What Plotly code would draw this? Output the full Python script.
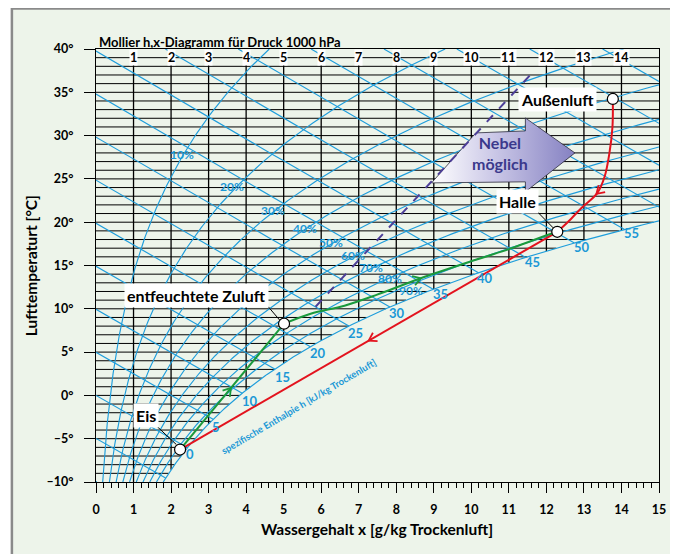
import numpy as np
import plotly.graph_objects as go

# ---------------- data ----------------
P_HPA = 1000.0
T_LINES = list(range(-9, 40))              # isotherms every 1 °C
X_LINES = list(range(1, 15))               # lines of constant water content
RH_LEVELS = [0.1, 0.2, 0.3, 0.4, 0.5, 0.6, 0.7, 0.8, 0.9, 1.0]
H_LEVELS = list(range(-10, 85, 5))         # enthalpy kJ/kg
X_TICKS = list(range(0, 16))
Y_TICKS = list(range(-10, 45, 5))
Y_TICKTEXT = ["–10°", "–5°", "0°", "5°", "10°", "15°", "20°", "25°", "30°", "35°", "40°"]
TOP_NUMBERS = list(range(1, 15))

RH_LABELS = ["10%", "20%", "30%", "40%", "50%", "60%", "70%", "80%", "90%"]
RH_LABEL_X = [2.29, 3.61, 4.72, 5.56, 6.25, 6.85, 7.34, 7.84, 8.38]
RH_LABEL_T = [27.77, 24.08, 21.31, 19.24, 17.62, 16.12, 14.80, 13.45, 12.15]

H_LABELS = ["0", "5", "10", "15", "20", "25", "30", "35", "40", "45", "50", "55"]
H_LABEL_X = [2.50, 3.19, 4.09, 4.98, 5.91, 6.91, 8.01, 9.17, 10.36, 11.63, 12.94, 14.26]
H_LABEL_T = [-6.71, -3.60, -0.60, 2.17, 4.94, 7.24, 9.55, 11.74, 13.59, 15.43, 17.16, 18.78]

STATE_NAMES = ["Außenluft", "Halle", "entfeuchtete Zuluft", "Eis"]
STATE_X = [13.77, 12.29, 5.01, 2.24]
STATE_T = [34.23, 18.89, 8.28, -6.25]
STATE_LABEL_X = [12.30, 11.23, 2.69, 1.32]
STATE_LABEL_T = [34.12, 22.35, 11.51, -2.33]

RED_CURVE_X = [13.77, 13.76, 13.68, 13.55, 13.36, 12.94, 12.58, 12.29]
RED_CURVE_T = [34.23, 31.0, 28.0, 25.24, 23.39, 21.66, 20.05, 18.89]
GREEN_CURVE_X = [5.01, 5.72, 6.62, 7.49, 8.62, 10.12, 11.18, 11.97, 12.29]
GREEN_CURVE_T = [8.28, 9.43, 10.36, 11.63, 13.47, 15.66, 17.16, 18.43, 18.89]

DASH_X = [5.85, 11.57]
DASH_T = [10.24, 37.0]

FOG_ARROW_X = [8.94, 10.12, 11.44, 11.44, 12.76, 11.44, 11.44, 8.94]
FOG_ARROW_T = [24.54, 30.31, 30.54, 32.04, 28.0, 23.51, 24.66, 24.54]

# ---------------- physics helpers ----------------
def psat(T):
    T = np.asarray(T, dtype=float)
    return 6.112 * np.exp(17.62 * T / (243.12 + T))

def x_of(T, phi=1.0):
    ps = phi * psat(T)
    return 622.0 * ps / (P_HPA - ps)

def dewpoint(x, phi=1.0):
    ps = x * P_HPA / (622.0 + x) / phi
    a = np.log(ps / 6.112)
    return 243.12 * a / (17.62 - a)

def T_of_h(h, x):
    return (h - 2.501 * x) / (1.006 + 0.00186 * x)

XMAX, TMIN, TMAX = 15.0, -10.0, 40.0
SX, SY = 569.0 / 15.0, 433.0 / 50.0

BLUE = "#1e9ddb"
BLUE_TXT = "#1b98d6"
FONT = "Lato"

# page body has an 8px margin -> figure placed at (8,8) of the window
def px_x(p):  # window pixel x -> paper
    return (p - 96) / 569.0

def px_y(p):  # window pixel y -> paper
    return (482 - p) / 433.0

fig = go.Figure()

# frame / background
fig.add_shape(type="rect", xref="paper", yref="paper",
              x0=px_x(11), x1=px_x(700), y0=px_y(580), y1=px_y(8.6),
              fillcolor="#edf4ea", line=dict(color="#8a8a8a", width=2.5), layer="below")

# black isotherms
hx, hy = [], []
for T in T_LINES:
    xe = min(XMAX, float(x_of(T)))
    hx += [0, xe, None]
    hy += [T, T, None]
fig.add_trace(go.Scatter(x=hx, y=hy, mode="lines", line=dict(color="black", width=1),
                         hoverinfo="skip", showlegend=False))
# black constant-x lines
vx, vy = [], []
for xv in X_LINES:
    tb = max(TMIN, float(dewpoint(xv)))
    vx += [xv, xv, None]
    vy += [38.4, tb, None]
fig.add_trace(go.Scatter(x=vx, y=vy, mode="lines", line=dict(color="black", width=1.3),
                         hoverinfo="skip", showlegend=False))

# blue enthalpy lines
bx, by = [], []
for h in H_LEVELS:
    x0 = 0.0
    if T_of_h(h, 0) > TMAX:
        x0 = (h - 1.006 * TMAX) / (2.501 + 0.00186 * TMAX)
    lo, hi = x0, 40.0
    for _ in range(80):
        mid = 0.5 * (lo + hi)
        if x_of(T_of_h(h, mid)) - mid > 0:
            lo = mid
        else:
            hi = mid
    x1 = min(lo, XMAX)
    if T_of_h(h, x1) < TMIN:
        x1 = (h - 1.006 * TMIN) / (2.501 + 0.00186 * TMIN)
    if x1 <= x0:
        continue
    xs = np.linspace(x0, x1, 40)
    bx += list(xs) + [None]
    by += list(T_of_h(h, xs)) + [None]
# blue relative-humidity lines
for phi in RH_LEVELS:
    ps_lim = XMAX * P_HPA / (622.0 + XMAX) / phi
    a = np.log(ps_lim / 6.112)
    t_end = min(TMAX, 243.12 * a / (17.62 - a))
    Ts = np.linspace(TMIN, t_end, 200)
    bx += list(x_of(Ts, phi)) + [None]
    by += list(Ts) + [None]
fig.add_trace(go.Scatter(x=bx, y=by, mode="lines", line=dict(color=BLUE, width=1.15),
                         hoverinfo="skip", showlegend=False))

# fog arrow
fig.add_trace(go.Scatter(x=FOG_ARROW_X, y=FOG_ARROW_T, mode="lines", fill="toself",
                         fillgradient=dict(type="horizontal",
                                           colorscale=[[0, "rgba(255,255,255,1)"], [0.45, "#c9c6e6"], [1, "#8581c2"]]),
                         line=dict(color="#2a2a3a", width=0.8), hoverinfo="skip", showlegend=False))

# dashed line
fig.add_trace(go.Scatter(x=DASH_X, y=DASH_T, mode="lines",
                         line=dict(color="#4d3f98", width=2, dash="dash"),
                         hoverinfo="skip", showlegend=False))


def vhead(xs, ys, frac, size=9.0, half=32.0):
    px = np.array(xs) * SX
    py = np.array(ys) * SY
    seg = np.hypot(np.diff(px), np.diff(py))
    cum = np.concatenate([[0], np.cumsum(seg)])
    L = frac * cum[-1]
    i = int(np.clip(np.searchsorted(cum, L) - 1, 0, len(seg) - 1))
    t = (L - cum[i]) / seg[i]
    tip = np.array([px[i] + t * (px[i + 1] - px[i]), py[i] + t * (py[i + 1] - py[i])])
    d = np.array([px[i + 1] - px[i], py[i + 1] - py[i]]) / seg[i]
    out_x, out_y = [], []
    for s in (1, -1):
        ang = np.radians(s * half)
        r = np.array([[np.cos(ang), -np.sin(ang)], [np.sin(ang), np.cos(ang)]])
        arm = tip - size * (r @ d)
        out_x.append(arm[0] / SX)
        out_y.append(arm[1] / SY)
    return [out_x[0], tip[0] / SX, out_x[1]], [out_y[0], tip[1] / SY, out_y[1]]


RED = "#e3131e"
GREEN = "#1a9a3c"
# red: outside air -> hall
fig.add_trace(go.Scatter(x=RED_CURVE_X, y=RED_CURVE_T, mode="lines", line=dict(color=RED, width=2, shape="spline"),
                         hoverinfo="skip", showlegend=False))
ax, ay = vhead(RED_CURVE_X, RED_CURVE_T, 0.64)
fig.add_trace(go.Scatter(x=ax, y=ay, mode="lines", line=dict(color=RED, width=1.8), hoverinfo="skip", showlegend=False))
# red: hall -> ice
rx = [STATE_X[1], STATE_X[3]]
ry = [STATE_T[1], STATE_T[3]]
fig.add_trace(go.Scatter(x=rx, y=ry, mode="lines", line=dict(color=RED, width=2), hoverinfo="skip", showlegend=False))
ax, ay = vhead(rx, ry, 0.50)
fig.add_trace(go.Scatter(x=ax, y=ay, mode="lines", line=dict(color=RED, width=1.8), hoverinfo="skip", showlegend=False))
# green: ice -> supply air
gx = [STATE_X[3], STATE_X[2]]
gy = [STATE_T[3], STATE_T[2]]
fig.add_trace(go.Scatter(x=gx, y=gy, mode="lines", line=dict(color=GREEN, width=2), hoverinfo="skip", showlegend=False))
ax, ay = vhead(gx, gy, 0.49)
fig.add_trace(go.Scatter(x=ax, y=ay, mode="lines", line=dict(color=GREEN, width=1.8), hoverinfo="skip", showlegend=False))
# green: supply air -> hall
fig.add_trace(go.Scatter(x=GREEN_CURVE_X, y=GREEN_CURVE_T, mode="lines", line=dict(color=GREEN, width=2, shape="spline"),
                         hoverinfo="skip", showlegend=False))
ax, ay = vhead(GREEN_CURVE_X, GREEN_CURVE_T, 0.50)
fig.add_trace(go.Scatter(x=ax, y=ay, mode="lines", line=dict(color=GREEN, width=1.8), hoverinfo="skip", showlegend=False))

# leader lines
LEAD = {1: ((11.76, 21.2), (12.18, 19.35)), 2: ((4.59, 10.24), (4.93, 8.51)), 3: ((1.63, -3.6), (2.14, -5.67))}
for k, ((a1, b1), (a2, b2)) in LEAD.items():
    fig.add_trace(go.Scatter(x=[a1, a2], y=[b1, b2], mode="lines", line=dict(color="black", width=1),
                             hoverinfo="skip", showlegend=False))

# state points
fig.add_trace(go.Scatter(x=STATE_X, y=STATE_T, mode="markers",
                         marker=dict(size=11, color="white", line=dict(color="black", width=1.2)),
                         hoverinfo="skip", showlegend=False))

annotations = []
for name, lx, lt in zip(STATE_NAMES, STATE_LABEL_X, STATE_LABEL_T):
    annotations.append(dict(x=lx, y=lt, text=name, showarrow=False, bgcolor="white", borderpad=2,
                            font=dict(family=FONT, size=16, color="black", weight="bold")))
for n in TOP_NUMBERS:
    annotations.append(dict(x=n, y=39, text=str(n), showarrow=False, bgcolor="white", borderpad=0,
                            font=dict(family=FONT, size=12.5, color="black", weight="bold")))
for t, lx, lt in zip(RH_LABELS, RH_LABEL_X, RH_LABEL_T):
    annotations.append(dict(x=lx, y=lt, text=t, showarrow=False,
                            font=dict(family=FONT, size=12, color=BLUE_TXT, weight="bold")))
for t, lx, lt in zip(H_LABELS, H_LABEL_X, H_LABEL_T):
    annotations.append(dict(x=lx, y=lt, text=t, showarrow=False,
                            font=dict(family=FONT, size=13, color=BLUE_TXT, weight="bold")))
annotations.append(dict(x=5.40, y=-1.29, text="spezifische Enthalpie h [kJ/kg Trockenluft]", showarrow=False,
                        textangle=-30.5, font=dict(family=FONT, size=9.5, color=BLUE_TXT, weight="bold")))
annotations.append(dict(x=10.76, y=28.0, text="Nebel<br>möglich", showarrow=False,
                        font=dict(family=FONT, size=16, color="#3b398c", weight="bold")))
annotations.append(dict(xref="paper", yref="paper", x=px_x(97), y=px_y(42), xanchor="left", yanchor="middle",
                        text="Mollier h,x-Diagramm für Druck 1000 hPa", showarrow=False,
                        font=dict(family=FONT, size=13, color="black", weight="bold")))
annotations.append(dict(xref="paper", yref="paper", x=px_x(380), y=px_y(529), xanchor="center", yanchor="middle",
                        text="Wassergehalt x [g/kg Trockenluft]", showarrow=False,
                        font=dict(family=FONT, size=15.5, color="black", weight="bold")))
annotations.append(dict(xref="paper", yref="paper", x=px_x(30), y=0.5, xanchor="center", yanchor="middle",
                        textangle=-90, text="Lufttemperaturt [°C]", showarrow=False,
                        font=dict(family=FONT, size=15.5, color="black", weight="bold")))

fig.update_layout(
    width=670, height=546, autosize=False,
    margin=dict(l=88, r=13, t=41, b=72),
    paper_bgcolor="white", plot_bgcolor="rgba(0,0,0,0)",
    annotations=annotations,
    xaxis=dict(range=[0, 15], tickvals=X_TICKS, ticks="outside", ticklen=10, tickwidth=1.3, tickcolor="black",
               minor=dict(ticks="outside", ticklen=5, dtick=0.2, tickwidth=1, tickcolor="black"),
               showline=True, mirror=True, linecolor="black", linewidth=1.3, showgrid=False, zeroline=False,
               tickfont=dict(family=FONT, size=12.5, color="black", weight="bold"), ticklabelstandoff=6),
    yaxis=dict(range=[-10, 40], tickvals=Y_TICKS, ticktext=Y_TICKTEXT, ticks="outside", ticklen=11, tickwidth=1.3,
               tickcolor="black", showline=True, mirror=True, linecolor="black", linewidth=1.3, showgrid=False,
               zeroline=False, tickfont=dict(family=FONT, size=12.5, color="black", weight="bold"),
               ticklabelstandoff=8),
)

fig.write_html("out.html")
